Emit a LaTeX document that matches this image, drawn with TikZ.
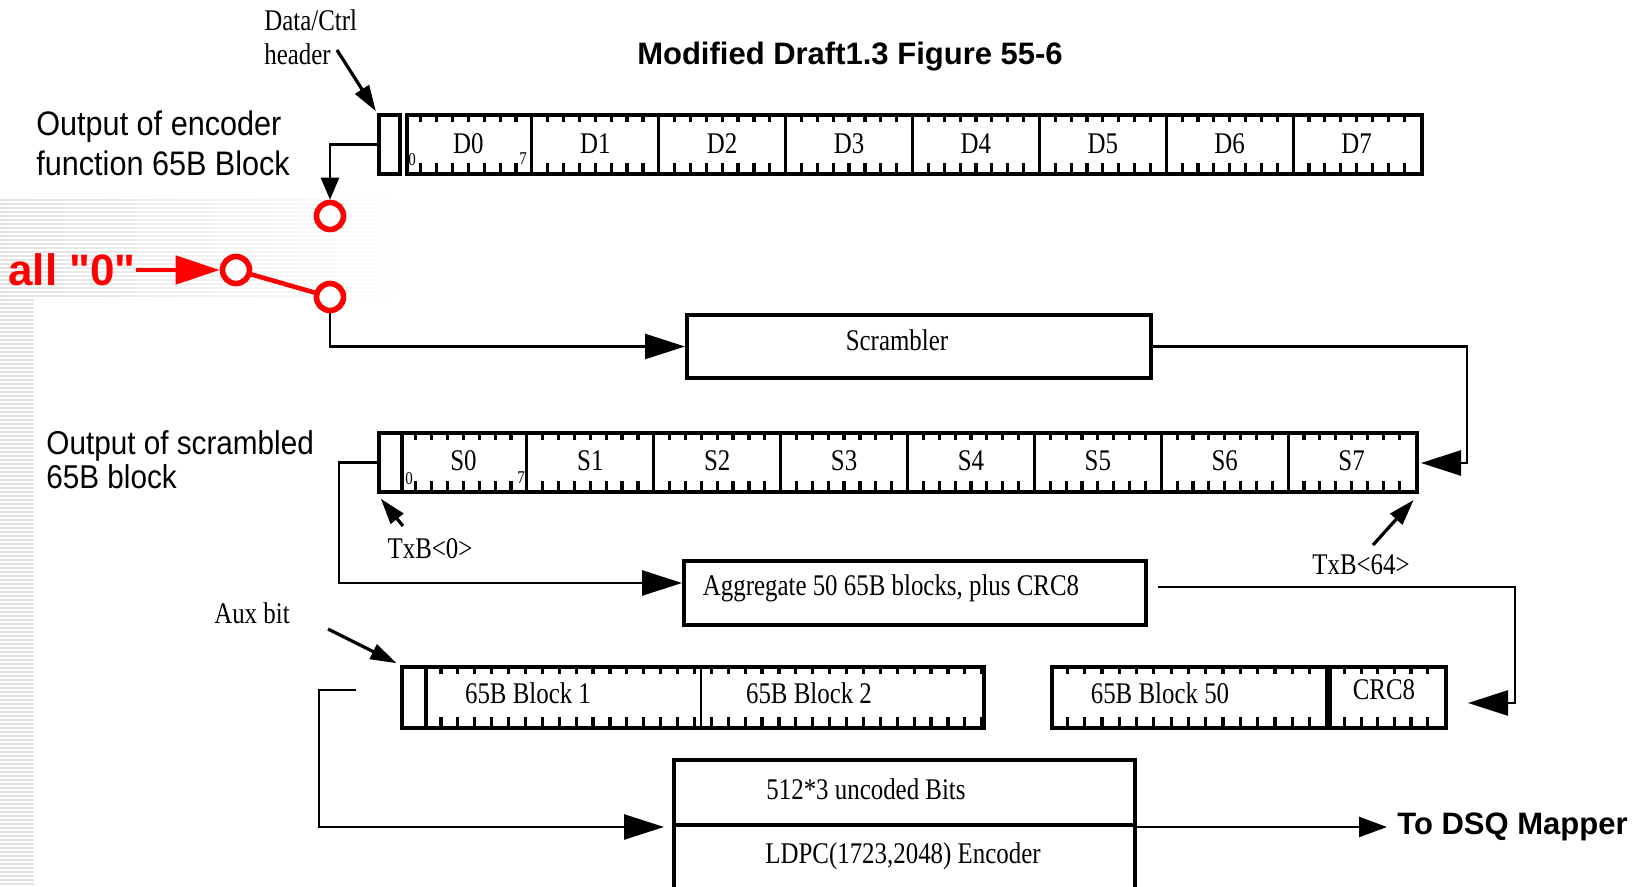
\documentclass[tikz,border=0pt]{standalone}
\usepackage{fontspec}
\usepackage{tikz}
\usetikzlibrary{arrows.meta}
\newfontfamily\figserif{Liberation Serif}[FakeStretch=0.83]
\newfontfamily\figsans{Liberation Sans}[FakeStretch=0.9]
\newfontfamily\headsans{Liberation Sans}
\definecolor{allzero}{RGB}{255, 0, 0}
\definecolor{slidegray}{RGB}{226, 226, 226}

\newcommand\bitticks[5]{%
  \pgfmathsetmacro\tickn{int(floor((#2-#1)/#5-0.01))}
  \foreach \k in {1,...,\tickn}{
    \draw[line width=1.6pt] ({#1+\k*#5},#3) -- ++(0,9);
    \draw[line width=1.6pt] ({#1+\k*#5},#4) -- ++(0,-9);
  }}

\tikzset{
  blk/.style={draw, line width=2pt, inner sep=0pt, anchor=north west},
  lbl/.style={font=\figserif\fontsize{15}{17}\selectfont, inner sep=0pt},
  tinylbl/.style={font=\figserif\fontsize{9}{9}\selectfont, inner sep=0pt},
  sidelbl/.style={font=\figsans\fontsize{17}{20}\selectfont, inner sep=0pt, align=left, anchor=west},
  headlbl/.style={font=\headsans\bfseries\fontsize{15.5}{18}\selectfont, inner sep=0pt},
  wire/.style={line width=1.3pt},
  bigtip/.style={-{Triangle[length=20pt, width=12.5pt]}},
  midtip/.style={-{Triangle[length=14pt, width=10pt]}},
  pointer/.style={line width=1.6pt, -{Triangle[length=13pt, width=8pt]}},
  sw/.style={circle, draw=allzero, line width=2.8pt, fill=white, minimum size=13.5pt, inner sep=0pt},
  zerowire/.style={draw=allzero, line width=2.3pt}
}

\begin{document}
\begin{tikzpicture}[x=0.5pt, y=-0.5pt]
    \clip (0,0) rectangle (1650,887);
    \shade[left color=slidegray, right color=white] (0,200) rectangle (410,297);
    \fill[slidegray] (0,297) rectangle (34,887);
    \foreach \y in {202,206,...,294} \draw[white, line width=0.9pt] (0,\y) -- (410,\y);
    \foreach \y in {298,302,...,886} \draw[white, line width=0.9pt] (0,\y) -- (34,\y);

    \node[headlbl] (title) at (850,57) {Modified Draft1.3 Figure 55-6};
    \node[lbl, align=left, anchor=north west] (hdrlbl) at (264,9) {Data/Ctrl\\header};
    \node[sidelbl] (enclbl) at (36,143) {Output of encoder\\function 65B Block};
    \node[sidelbl, font=\figsans\fontsize{16.5}{17}\selectfont] (scrlbl) at (46,460) {Output of scrambled\\65B block};

    % encoder output block
    \node[blk, minimum width=10.5pt, minimum height=29.5pt] (dhdr) at (377,113) {};
    \node[blk, minimum width=507.5pt, minimum height=29.5pt] (dblk) at (405,113) {};
    \bitticks{405}{1420}{113}{172}{15.86}
    \foreach \i in {1,...,7} \draw[line width=1.6pt] ({405+126.875*\i},113) -- ++(0,59);
    \foreach \i in {0,...,7} \node[lbl] (d\i) at ({405+126.875*(\i+0.5)},144) {D\i};
    \node[tinylbl] (dlo) at (412,160) {0};
    \node[tinylbl] (dhi) at (523,159) {7};
    \coordinate (hdrtail) at (337,50);
    \draw[pointer, shorten >=1pt] (hdrtail) -- (dhdr.north west);

    % switch
    \node[sw] (swin)   at (330,216) {};
    \node[sw] (swzero) at (236,270) {};
    \node[sw] (swout)  at (330,297) {};
    \node[font=\headsans\bfseries\fontsize{22}{22}\selectfont, text=allzero, inner sep=0pt, anchor=west] (allz) at (8,270) {all "0"};
    \draw[wire, -{Triangle[length=11pt, width=9pt]}] (dhdr.west) -| (swin.north);
    \draw[zerowire, -{Triangle[length=22pt, width=14pt]}, allzero] (allz.east) -- (swzero.west);
    \draw[zerowire] (swzero) -- (swout);

    % scrambler
    \node[blk, minimum width=232pt, minimum height=31.5pt] (scr) at (685,313) {};
    \node[lbl] (scrl) at (897,340) {Scrambler};
    \draw[wire, bigtip] (swout.south) |- (scr.west);

    % scrambled block
    \node[blk, minimum width=11.5pt, minimum height=29.5pt] (shdr) at (377,431) {};
    \node[blk, minimum width=507.5pt, minimum height=29.5pt] (sblk) at (400,431) {};
    \bitticks{400}{1415}{431}{490}{15.86}
    \foreach \i in {1,...,7} \draw[line width=1.6pt] ({400+126.875*\i},431) -- ++(0,59);
    \foreach \i in {0,...,7} \node[lbl] (s\i) at ({400+126.875*(\i+0.5)},461) {S\i};
    \node[tinylbl] (slo) at (409,479) {0};
    \node[tinylbl] (shi) at (521,478) {7};
    \coordinate (scrbend) at (1467,463);
    \coordinate (s7in) at (1421,463);
    \draw[wire, bigtip] (scr.east) -| (scrbend) -- (s7in);

    \node[lbl] (txb0) at (430,549) {TxB<0>};
    \coordinate (txb0tail) at (403,526);
    \draw[pointer, shorten >=3pt] (txb0tail) -- (shdr.south west);
    \node[lbl] (txb64) at (1361,565) {TxB<64>};
    \coordinate (txb64tail) at (1373,545);
    \draw[pointer, shorten >=4pt] (txb64tail) -- (sblk.south east);

    % aggregation
    \node[blk, minimum width=231pt, minimum height=32pt] (agg) at (682,559) {};
    \node[lbl] (aggl) at (891,588) {Aggregate 50 65B blocks, plus CRC8};
    \draw[wire, bigtip] (shdr.west) -- ++(-38,0) |- ([yshift=5pt]agg.west);

    \node[blk, minimum width=12pt, minimum height=30.5pt] (bhdr) at (400,665) {};
    \node[blk, minimum width=279pt, minimum height=30.5pt] (b12) at (424,665) {};
    \node[blk, minimum width=139pt, minimum height=30.5pt] (b50) at (1050,665) {};
    \node[blk, minimum width=58pt, minimum height=30.5pt] (crc) at (1328,665) {};
    \bitticks{424}{982}{665}{726}{16.9}
    \bitticks{1050}{1328}{665}{726}{17.3}
    \bitticks{1328}{1444}{665}{726}{16.6}
    \draw[line width=1pt] (701,665) -- (701,726);
    \draw[line width=2.6pt] (crc.north west) -- (crc.south west);
    \node[lbl] (b1)   at (528,693)  {65B Block 1};
    \node[lbl] (b2)   at (809,693)  {65B Block 2};
    \node[lbl] (b50l) at (1160,693) {65B Block 50};
    \node[lbl] (crcl) at (1384,690) {CRC8};

    \node[lbl] (auxlbl) at (252,613) {Aux bit};
    \coordinate (auxtail) at (328,629);
    \draw[pointer, shorten >=2pt] (auxtail) -- (bhdr.north west);

    \coordinate (aggout) at (1158,587);
    \coordinate (aggbend) at (1515,703);
    \coordinate (crcin) at (1468,703);
    \draw[wire, bigtip] (aggout) -| (aggbend) -- (crcin);

    % LDPC
    \node[blk, minimum width=230.5pt, minimum height=32.5pt] (ldpctop) at (672,758) {};
    \node[blk, minimum width=230.5pt, minimum height=40pt] (ldpcbot) at (672,823) {};
    \node[lbl, anchor=west] (uncoded) at (766,789) {512*3 uncoded Bits};
    \node[lbl, anchor=west] (ldpcl) at (765,856) {LDPC(1723,2048) Encoder};
    \coordinate (stub) at (356,690);
    \draw[wire, bigtip, shorten >=4pt] (stub) -- ++(-37,0) |- (ldpctop.south west);

    \node[headlbl, anchor=west] (dsq) at (1397,827) {To DSQ Mapper};
    \draw[wire, midtip, shorten >=5pt] (ldpctop.south east) -- (ldpctop.south east -| dsq.west);
\end{tikzpicture}
\end{document}
